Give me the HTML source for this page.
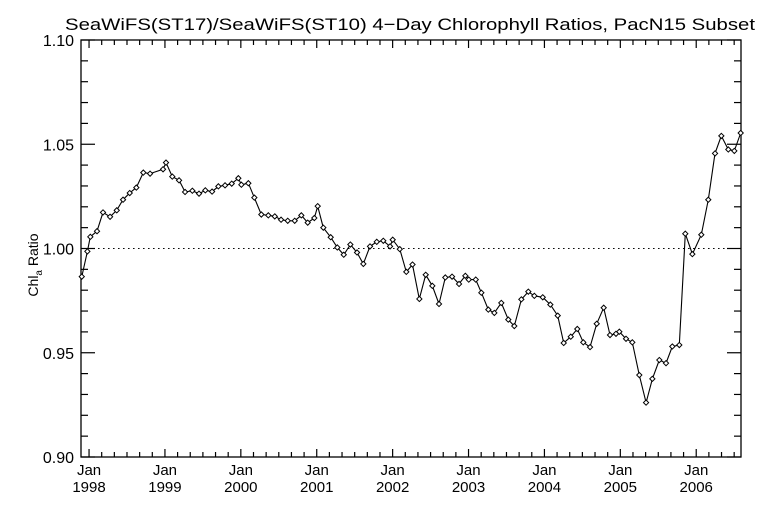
<!DOCTYPE html>
<html><head><meta charset="utf-8"><style>
body{margin:0;background:#fff;width:768px;height:512px;overflow:hidden}
text{font-family:"Liberation Sans",sans-serif;fill:#000}
</style></head><body>
<svg id="chart" width="768" height="512" viewBox="0 0 768 512" xmlns="http://www.w3.org/2000/svg">
<rect width="768" height="512" fill="#fff"/>
<text x="65" y="30" textLength="690" lengthAdjust="spacingAndGlyphs" font-size="17">SeaWiFS(ST17)/SeaWiFS(ST10) 4−Day Chlorophyll Ratios, PacN15 Subset</text>
<text transform="translate(38,265) rotate(-90)" text-anchor="middle" font-size="14">Chl<tspan font-size="10" dy="4">a</tspan><tspan dy="-4"> Ratio</tspan></text>
<g id="axes"></g>
<g id="marks"></g>
</svg>
<script>
const dates=[1997.904,1997.978,1998.017,1998.105,1998.184,1998.277,1998.365,1998.448,1998.536,1998.623,1998.715,1998.804,1998.975,1999.014,1999.097,1999.186,1999.265,1999.361,1999.449,1999.532,1999.621,1999.704,1999.792,1999.880,1999.967,2000.007,2000.099,2000.178,2000.270,2000.362,2000.447,2000.530,2000.618,2000.710,2000.797,2000.881,2000.968,2001.013,2001.087,2001.184,2001.271,2001.356,2001.443,2001.531,2001.614,2001.702,2001.791,2001.877,2001.966,2002.001,2002.094,2002.180,2002.262,2002.352,2002.436,2002.523,2002.611,2002.694,2002.783,2002.875,2002.958,2003.003,2003.095,2003.169,2003.261,2003.340,2003.432,2003.524,2003.603,2003.696,2003.788,2003.867,2003.978,2004.078,2004.175,2004.254,2004.347,2004.433,2004.512,2004.601,2004.689,2004.781,2004.864,2004.943,2004.987,2005.075,2005.158,2005.250,2005.339,2005.422,2005.514,2005.602,2005.685,2005.777,2005.856,2005.949,2006.067,2006.159,2006.248,2006.331,2006.423,2006.502,2006.586];
const ratios=[0.9865,0.9986,1.0056,1.0083,1.0173,1.0152,1.0183,1.0234,1.0266,1.0292,1.0364,1.0359,1.0380,1.0412,1.0345,1.0327,1.0271,1.0277,1.0263,1.0279,1.0273,1.0298,1.0303,1.0311,1.0337,1.0306,1.0313,1.0244,1.0163,1.0159,1.0154,1.0138,1.0133,1.0133,1.0159,1.0124,1.0146,1.0203,1.0100,1.0054,1.0005,0.9970,1.0019,0.9981,0.9926,1.0010,1.0032,1.0037,1.0010,1.0042,0.9997,0.9888,0.9923,0.9758,0.9874,0.9821,0.9734,0.9861,0.9865,0.9830,0.9869,0.9851,0.9851,0.9788,0.9707,0.9691,0.9739,0.9659,0.9628,0.9756,0.9793,0.9773,0.9766,0.9731,0.9678,0.9547,0.9577,0.9614,0.9550,0.9527,0.9639,0.9716,0.9585,0.9591,0.9601,0.9567,0.9550,0.9393,0.9261,0.9375,0.9465,0.9450,0.9530,0.9537,1.0071,0.9973,1.0066,1.0234,1.0456,1.0540,1.0475,1.0468,1.0554];
const yTickLabels=["0.90","0.95","1.00","1.05","1.10"];
const xYearLabels=["1998","1999","2000","2001","2002","2003","2004","2005","2006"];
const refValue=1.00;

const NS="http://www.w3.org/2000/svg";
const L=81,R=741,T=40,B=457;
const X0=1997.894,X1=2006.590,Y0=0.90,Y1=1.10;
const sx=v=>L+(v-X0)/(X1-X0)*(R-L);
const sy=v=>B-(v-Y0)/(Y1-Y0)*(B-T);
const axes=document.getElementById('axes'),marks=document.getElementById('marks');
function mk(tag,attrs,parent){const e=document.createElementNS(NS,tag);for(const k in attrs)e.setAttribute(k,attrs[k]);parent.appendChild(e);return e;}

const frame=mk('rect',{x:L,y:T,width:R-L,height:B-T,fill:'none',stroke:'#000','stroke-width':1.3},axes);



for(let i=0;i<=20;i++){
  const v=Y0+i*0.01,y=sy(v),major=i%5===0,len=major?14:7;
  const t1=mk('line',{x1:L,x2:L+len,y1:y,y2:y,stroke:'#000','stroke-width':1.2},axes);
  
  
  const t2=mk('line',{x1:R,x2:R-len,y1:y,y2:y,stroke:'#000','stroke-width':1.2},axes);
  
  
  if(major){
    const tx=mk('text',{x:L-7,y:y+6,'text-anchor':'end','font-size':16},axes);
    tx.textContent=yTickLabels[i/5];
    
    
  }
}
for(let m=0;m<=9*12;m+=2){
  const v=1998+m/12; if(v<X0||v>X1)continue;
  const x=sx(v),major=m%12===0,len=major?8:5;
  const t1=mk('line',{x1:x,x2:x,y1:B,y2:B-len,stroke:'#000','stroke-width':1.2},axes);
  
  
  const t2=mk('line',{x1:x,x2:x,y1:T,y2:T+len,stroke:'#000','stroke-width':1.2},axes);
  
  
}
xYearLabels.forEach((lab,i)=>{
  const x=sx(1998+i);
  const a=mk('text',{x:x,y:475,'text-anchor':'middle','font-size':15},axes);
  a.textContent='Jan';
  
  
  const b=mk('text',{x:x,y:492,'text-anchor':'middle','font-size':15},axes);
  b.textContent=lab;
  
  
});
const ref=mk('line',{x1:sx(1998)-1,x2:728,y1:sy(refValue),y2:sy(refValue),stroke:'#000','stroke-width':1,'stroke-dasharray':'1.5,3.5'},marks);



const pts=dates.map((d,i)=>sx(d).toFixed(1)+','+sy(ratios[i]).toFixed(1)).join(' ');
const line=mk('polyline',{points:pts,fill:'none',stroke:'#000','stroke-width':1.1},marks);


dates.forEach((d,i)=>{
  const x=sx(d),y=sy(ratios[i]),s=2.6;
  const p=mk('polygon',{points:`${x},${y-s} ${x+s},${y} ${x},${y+s} ${x-s},${y}`,fill:'#fff',stroke:'#000','stroke-width':1},marks);
  
  
});
</script>
</body></html>
